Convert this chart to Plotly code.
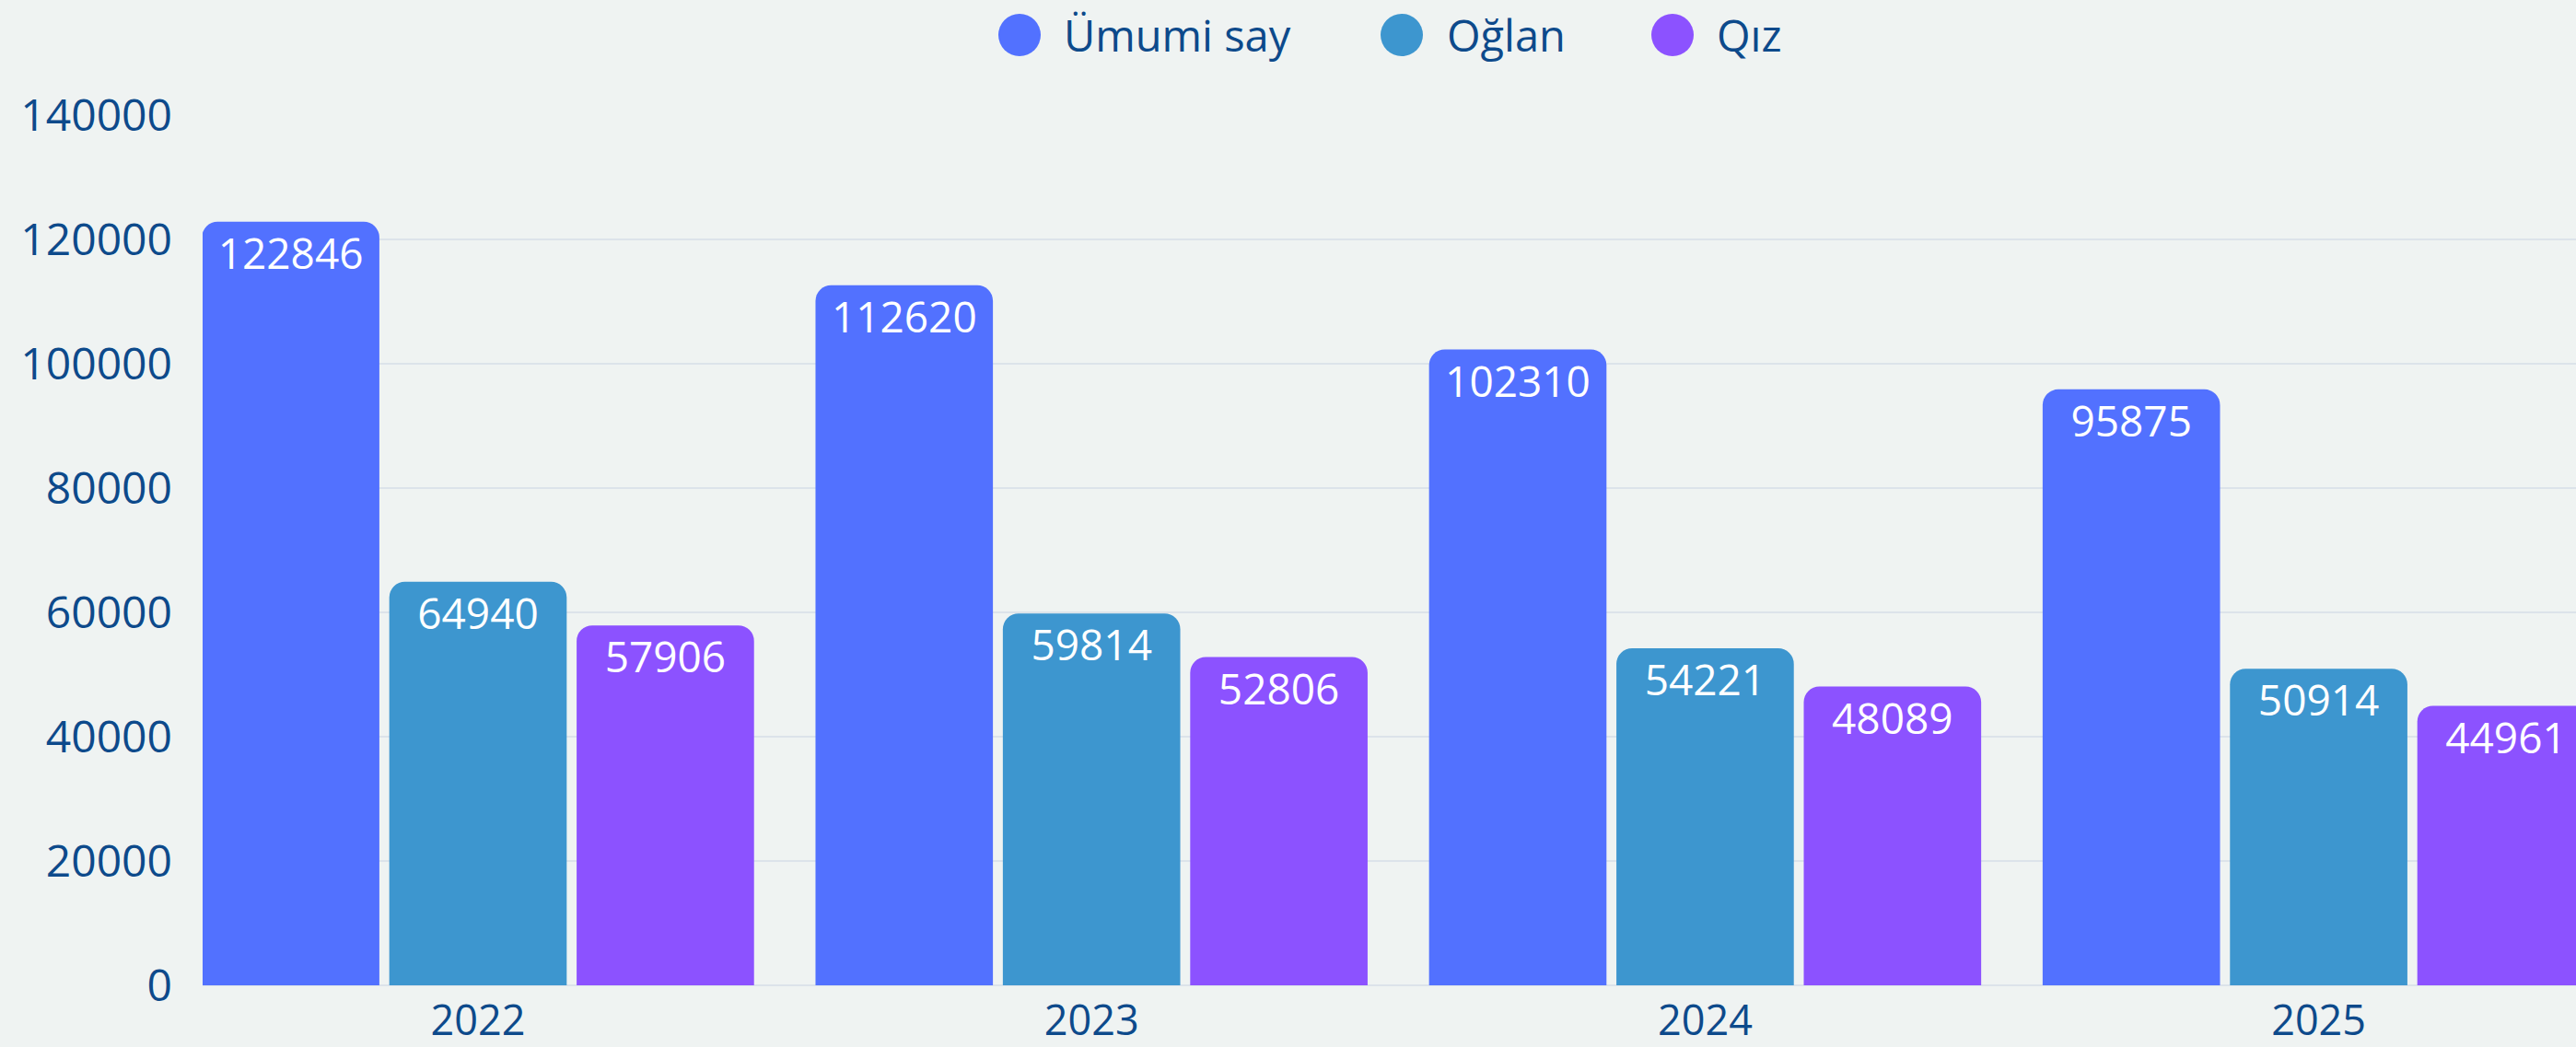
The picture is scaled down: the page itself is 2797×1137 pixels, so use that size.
import plotly.graph_objects as go

years = ["2022", "2023", "2024", "2025"]
series_names = ["Ümumi say", "Oğlan", "Qız"]
umumi = [122846, 112620, 102310, 95875]
oglan = [64940, 59814, 54221, 50914]
qiz = [57906, 52806, 48089, 44961]
colors = ["#5271FF", "#3D96CF", "#8C52FF"]

FONT = "Open Sans"
TXT = "#0D4A8B"
BG = "#EFF3F2"
W, H = 2797, 1137
L, R, T, B = 220, 0, 125, 67
pw = W - L - R
ph = H - T - B
BARGAP = 0.084

fig = go.Figure()
for name, vals, col in zip(series_names, [umumi, oglan, qiz], colors):
    fig.add_trace(go.Bar(
        x=years, y=vals, name=name, marker=dict(color=col, line=dict(width=0)),
        showlegend=False, hoverinfo="x+y+name",
    ))
# value labels, aligned with the grouped bars
for name, vals in zip(series_names, [umumi, oglan, qiz]):
    fig.add_trace(go.Scatter(
        x=years, y=vals, name=name, mode="markers+text",
        text=[str(v) for v in vals], textposition="bottom center",
        textfont=dict(color="white", size=46, family=FONT),
        marker=dict(size=25, color="rgba(0,0,0,0)"),
        showlegend=False, hoverinfo="skip", cliponaxis=True,
    ))

# category centre (px) of first band and band width
band = 666.2
c0 = 519
xlo = -(c0 - L) / band
xhi = xlo + pw / band

fig.update_layout(
    width=W, height=H,
    margin=dict(l=L, r=R, t=T, b=B, pad=0),
    paper_bgcolor=BG, plot_bgcolor=BG,
    barmode="group", bargap=BARGAP, bargroupgap=0.053, barcornerradius=17,
    scattermode="group", scattergap=BARGAP,
    font=dict(family=FONT, color=TXT, size=46),
    xaxis=dict(range=[xlo, xhi], showgrid=False, showline=False, zeroline=False,
               tickfont=dict(size=45, color=TXT), ticks="", ticklabelstandoff=8,
               automargin=False),
    yaxis=dict(range=[0, 140000], dtick=20000, tickformat="d", showgrid=True,
               gridcolor="#DCE3EA", gridwidth=2, zeroline=True, zerolinecolor="#DCE3EA",
               zerolinewidth=2, showline=False, ticks="", ticklabelstandoff=32,
               tickfont=dict(size=48, color=TXT), automargin=False),
    showlegend=False,
)

# custom legend with large circles
leg_circle_px = [1107, 1522, 1816]
leg_text_px = [1153, 1569, 1862]
ypx = 38
ypaper = (H - B - ypx) / ph
for name, col, cx, tx in zip(series_names, colors, leg_circle_px, leg_text_px):
    xp = (cx - L) / pw
    fig.add_shape(type="circle", xref="paper", yref="paper", xsizemode="pixel", ysizemode="pixel",
                  xanchor=xp, yanchor=ypaper, x0=-23, x1=23, y0=-23, y1=23,
                  fillcolor=col, line=dict(width=0))
    fig.add_annotation(x=(tx - L) / pw, y=ypaper, xref="paper", yref="paper", text=name,
                       showarrow=False, xanchor="left", yanchor="middle",
                       font=dict(size=47, color=TXT, family=FONT))

fig.write_html("out.html", config={"displayModeBar": False},
               post_script="document.body.style.margin='0';document.body.style.background='" + BG + "';")
